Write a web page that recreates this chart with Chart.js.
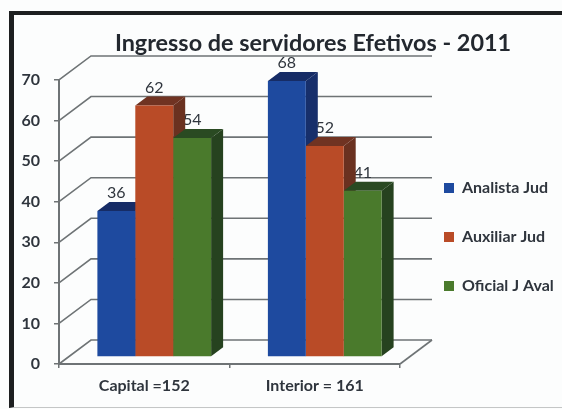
<!DOCTYPE html>
<html>
<head>
<meta charset="utf-8">
<title>Ingresso de servidores Efetivos</title>
<script src="https://cdn.jsdelivr.net/npm/chart.js@4"></script>
<style>
    html, body { margin: 0; padding: 0; background: #fcfdfd; overflow: hidden; }
    #wrap { position: relative; width: 562px; height: 409px; }
    #frame {
        position: absolute; left: 9px; top: 11px; width: 600px; height: 397px;
        border: 5px solid #1d1f20; border-bottom: 1px solid #c4c6c6; border-top-width: 4px;
        box-sizing: border-box;
    }
    canvas { position: absolute; left: 0; top: 0; }
</style>
</head>
<body>
<div id="wrap">
    <div id="frame"></div>
    <canvas id="chart" width="562" height="409"></canvas>
</div>
<script>
const chartTitle = "Ingresso de servidores Efetivos - 2011";
const categories = ["Capital =152", "Interior = 161"];
const analistaJud = [36, 68];
const auxiliarJud = [62, 52];
const oficialJAval = [54, 41];

const textColor = "#2f353d";
const gridColor = "#6e7375";
const wallDx = 32, wallDy = 24;     // offset of the back wall
const barDx = 10, barDy = -7;       // bars stand a bit inside the floor
const depthX = 12, depthY = 9;      // depth of each bar

function polygon(ctx, points, color) {
    ctx.fillStyle = color;
    ctx.beginPath();
    points.forEach((p, i) => i ? ctx.lineTo(p[0], p[1]) : ctx.moveTo(p[0], p[1]));
    ctx.closePath();
    ctx.fill();
}

const fakeThreeD = {
    id: "fakeThreeD",
    afterLayout(chart) {
        // title and legend do not sit where the layout puts them
        chart.titleBlock.left += 113;
        chart.titleBlock.right += 113;
        const legend = chart.legend;
        legend.left = 411;
        legend.right = 562;
        legend.top = 140;
        legend.bottom = 334;
    },
    beforeDatasetsDraw(chart) {
        const ctx = chart.ctx;
        const x = chart.scales.x, y = chart.scales.y;
        const left = x.left, right = x.right, bottom = y.bottom;

        // walls
        ctx.save();
        ctx.strokeStyle = gridColor;
        ctx.lineWidth = 1.6;
        y.ticks.forEach(tick => {
            const py = y.getPixelForValue(tick.value);
            ctx.beginPath();
            ctx.moveTo(left, py);
            ctx.lineTo(left + wallDx, py - wallDy);
            ctx.lineTo(right + wallDx, py - wallDy);
            ctx.stroke();
        });
        ctx.beginPath();
        ctx.moveTo(right, bottom);
        ctx.lineTo(right + wallDx, bottom - wallDy);
        ctx.stroke();
        ctx.restore();

        // value labels sit under the depth faces of the bar next to them
        ctx.save();
        ctx.translate(barDx, barDy);
        ctx.font = "16px Lato";
        ctx.fillStyle = textColor;
        ctx.textAlign = "center";
        ctx.textBaseline = "middle";
        chart.data.datasets.forEach((ds, d) => {
            chart.getDatasetMeta(d).data.forEach((bar, i) => {
                ctx.fillText(ds.data[i], bar.x, bar.y - 18);
            });
        });

        // top and side of the bars
        chart.getSortedVisibleDatasetMetas().slice().sort((a, b) => a.index - b.index).forEach(meta => {
            const ds = chart.data.datasets[meta.index];
            meta.data.forEach(bar => {
                const l = bar.x - bar.width / 2, r = bar.x + bar.width / 2;
                polygon(ctx, [[r, bar.y], [r + depthX, bar.y - depthY], [r + depthX, bar.base - depthY], [r, bar.base]], ds.sideColor);
                polygon(ctx, [[l, bar.y], [l + depthX, bar.y - depthY], [r + depthX, bar.y - depthY], [r, bar.y]], ds.topColor);
            });
        });
        ctx.restore();

        // the bars themselves are moved with the same offset
        ctx.save();
        ctx.translate(barDx, barDy);
    },
    afterDatasetsDraw(chart) {
        chart.ctx.restore();
    }
};

new Chart(document.getElementById("chart"), {
    type: "bar",
    data: {
        labels: categories,
        datasets: [
            { label: "Analista Jud", data: analistaJud, backgroundColor: "#1e4a9f", sideColor: "#172f6b", topColor: "#162c66" },
            { label: "Auxiliar Jud", data: auxiliarJud, backgroundColor: "#b94b27", sideColor: "#6a3120", topColor: "#703322" },
            { label: "Oficial J Aval", data: oficialJAval, backgroundColor: "#4a7a2c", sideColor: "#26421f", topColor: "#2a4a22" }
        ]
    },
    plugins: [fakeThreeD],
    options: {
        responsive: false,
        animation: false,
        categoryPercentage: 0.667,
        barPercentage: 1,
        layout: { padding: { left: 0, right: 162, top: 0, bottom: 0 } },
        plugins: {
            tooltip: { enabled: false },
            title: {
                display: true,
                text: chartTitle,
                color: "#23282f",
                font: { family: "Lato", size: 23.4, weight: "bold", lineHeight: 1.2 },
                padding: { top: 29, bottom: 22.9 }
            },
            legend: {
                position: "chartArea",
                align: "center",
                labels: {
                    boxWidth: 10,
                    boxHeight: 10,
                    padding: 33,
                    color: textColor,
                    font: { family: "Lato", size: 16, weight: "bold" }
                }
            }
        },
        scales: {
            x: {
                afterFit: scale => { scale.height = 45; },
                grid: { drawOnChartArea: false, color: gridColor, tickLength: 4, lineWidth: 1.5 },
                border: { color: gridColor, width: 2 },
                ticks: { color: textColor, padding: 8, font: { family: "Lato", size: 16, weight: "bold" } }
            },
            y: {
                min: 0,
                max: 70,
                afterFit: scale => { scale.width = 59; },
                grid: { drawOnChartArea: false, color: gridColor, tickLength: 5, lineWidth: 1.5 },
                border: { color: gridColor, width: 2 },
                ticks: { stepSize: 10, color: textColor, padding: 14, font: { family: "Lato", size: 16, weight: "bold" } }
            }
        }
    }
});
</script>
</body>
</html>
